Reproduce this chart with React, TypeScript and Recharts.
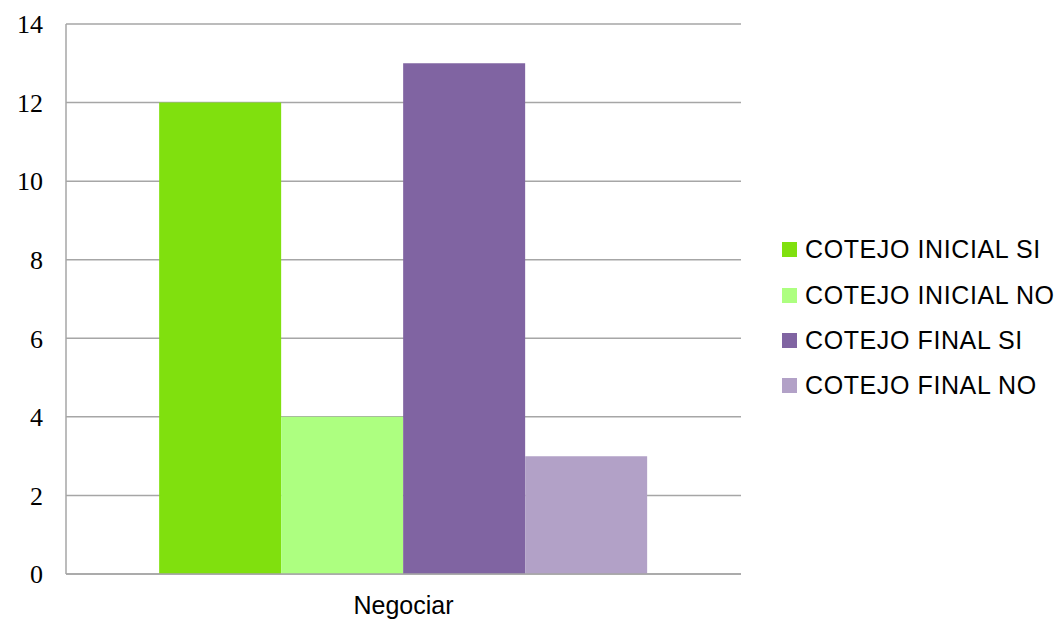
import React from 'react'
import { BarChart, Bar, XAxis, YAxis, CartesianGrid } from 'recharts'

const categories = ['Negociar']
const inicialSi = [12]
const inicialNo = [4]
const finalSi = [13]
const finalNo = [3]
const yTicks = [0, 2, 4, 6, 8, 10, 12, 14]

const series = [
  { key: 'inicialSi', name: 'COTEJO INICIAL SI', color: '#80E00E', values: inicialSi },
  { key: 'inicialNo', name: 'COTEJO INICIAL NO', color: '#ADFF80', values: inicialNo },
  { key: 'finalSi', name: 'COTEJO FINAL SI', color: '#8064A2', values: finalSi },
  { key: 'finalNo', name: 'COTEJO FINAL NO', color: '#B2A1C7', values: finalNo },
]

const data = categories.map((name, i) => {
  const row: Record<string, string | number> = { name }
  series.forEach((s) => { row[s.key] = s.values[i] })
  return row
})

const sans = '"Liberation Sans", Arial, sans-serif'
const serif = '"Liberation Serif", "Times New Roman", serif'

function SideLegend() {
  return (
    <div style={{ position: 'absolute', left: 782, top: 227, fontFamily: sans }}>
      {series.map((s) => (
        <div key={s.key} style={{ display: 'flex', alignItems: 'center', height: 45.4 }}>
          <span style={{ width: 15, height: 15, background: s.color, display: 'inline-block', marginRight: 8 }} />
          <span style={{ fontSize: 25, color: '#000', whiteSpace: 'nowrap', letterSpacing: 0.6 }}>{s.name}</span>
        </div>
      ))}
    </div>
  )
}

export default function App() {
  return (
    <div style={{ position: 'absolute', left: 0, top: 0, width: 1058, height: 622, background: '#fff' }}>
      <BarChart
        width={1058}
        height={622}
        data={data}
        margin={{ top: 24, right: 317, bottom: 18, left: 0 }}
        barCategoryGap="13.8%"
        barGap={0}
      >
        <CartesianGrid vertical={false} stroke="#a6a6a6" strokeWidth={1.5} />
        <XAxis
          dataKey="name"
          axisLine={{ stroke: '#a6a6a6', strokeWidth: 1.5 }}
          tickLine={false}
          tickMargin={16}
          tick={{ fill: '#000', fontSize: 25, fontFamily: sans }}
        />
        <YAxis
          width={66}
          domain={[0, 14]}
          ticks={yTicks}
          interval={0}
          axisLine={{ stroke: '#a6a6a6', strokeWidth: 1.5 }}
          tickLine={false}
          tickMargin={17}
          tick={{ fill: '#000', fontSize: 26, fontFamily: serif }}
        />
        {series.map((s) => (
          <Bar key={s.key} dataKey={s.key} name={s.name} fill={s.color} isAnimationActive={false} />
        ))}
      </BarChart>
      <SideLegend />
    </div>
  )
}
